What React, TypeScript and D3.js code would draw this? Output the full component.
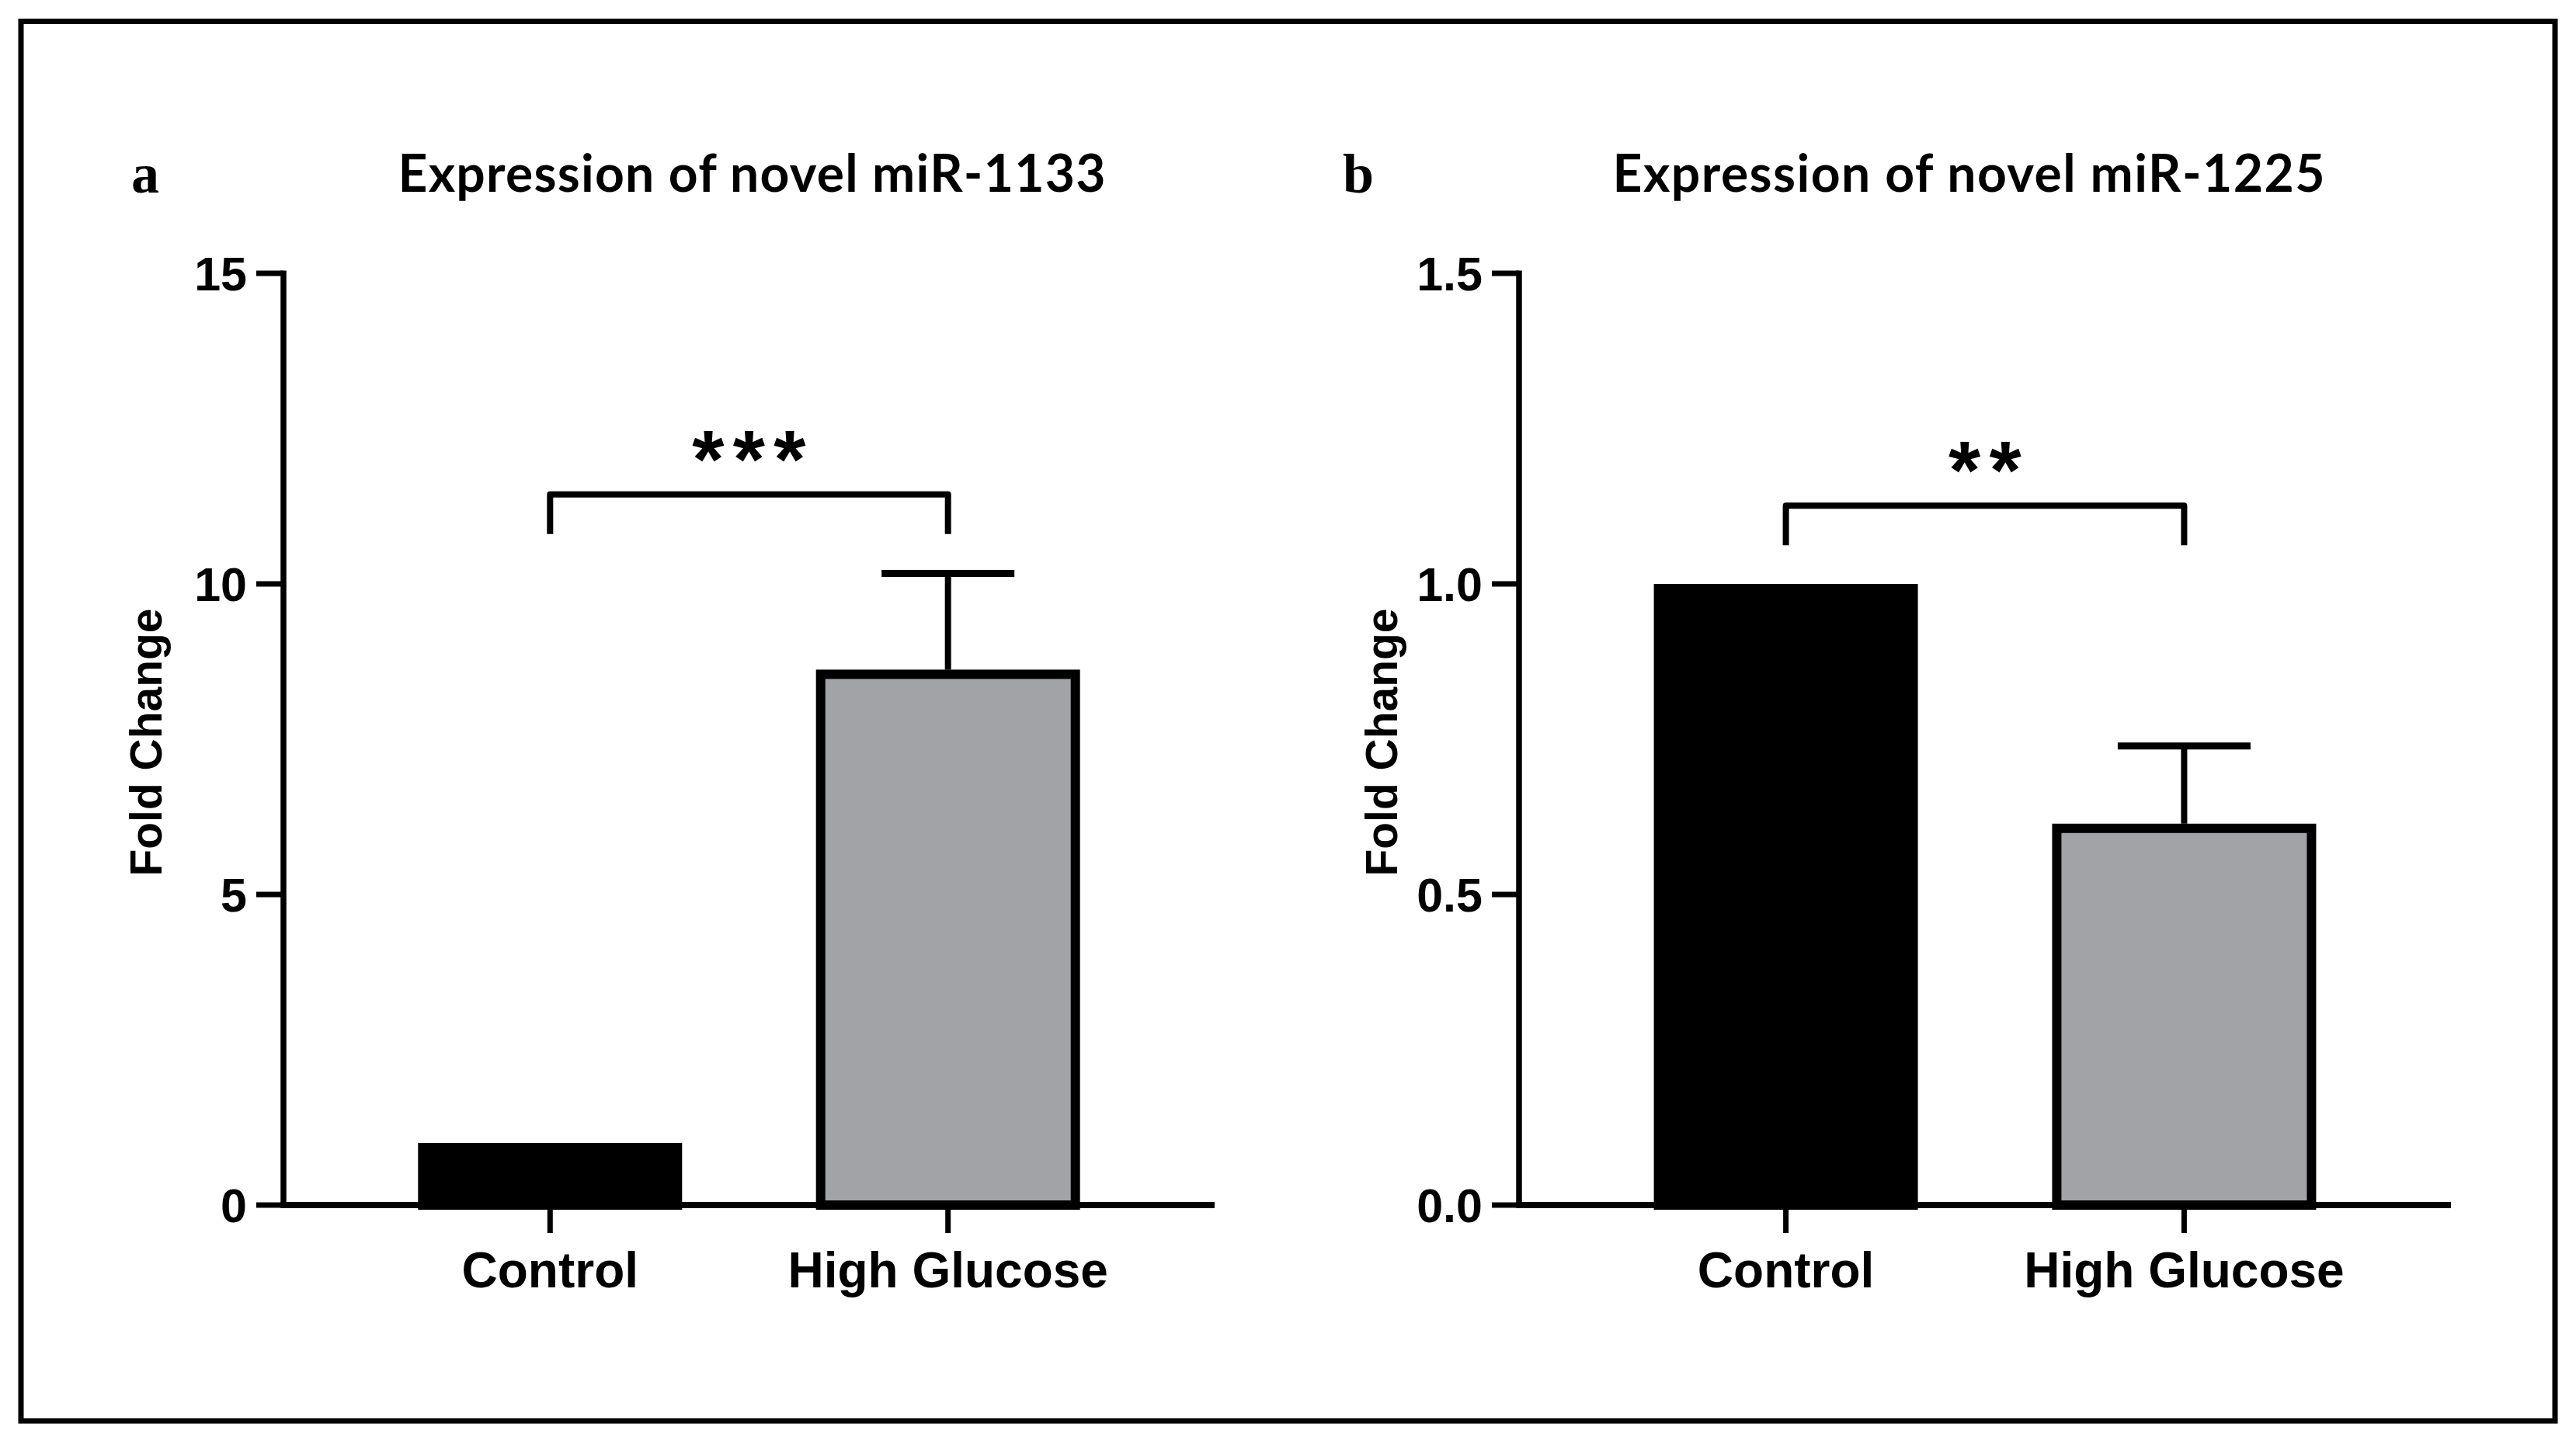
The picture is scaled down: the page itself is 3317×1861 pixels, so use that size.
import * as d3 from 'd3';

// ---- data ----
const categories = ['Control', 'High Glucose'];
const barColors = ['#000000', '#a2a3a7'];

const miR1133Means = [1.0, 8.62];
const miR1133Errors = [0, 1.55];
const miR1133Ticks = [0, 5, 10, 15];

const miR1225Means = [1.0, 0.614];
const miR1225Errors = [0, 0.125];
const miR1225Ticks = [0, 0.5, 1.0, 1.5];

const panelLetters = ['a', 'b'];
const panelTitles = ['Expression of novel miR-1133', 'Expression of novel miR-1225'];
const sigStars = ['***', '**'];
// height of the significance bracket in data units
const sigHeights = [11.44, 1.126];

const W = 3317;
const H = 1861;
const SANS = '"Liberation Sans", Arial, sans-serif';

interface PanelProps {
  left: number;
  right: number;
  means: number[];
  errors: number[];
  ticks: number[];
  letter: string;
  letterX: number;
  title: string;
  titleX: number;
  titleLen: number;
  stars: string;
  sigY: number;
  fmt: (v: number) => string;
}

const yTop = 352;
const yBottom = 1552;

function Panel({ left, right, means, errors, ticks, letter, letterX, title, titleX, titleLen, stars, sigY, fmt }: PanelProps) {
  const y = d3.scaleLinear().domain([0, ticks[ticks.length - 1]]).range([yBottom, yTop]);
  const x = d3.scalePoint<string>().domain(categories).range([left, right]).padding(0.67);
  const barW = 340;
  const border = 12;
  const capW = 171;

  const xl = x(categories[0])!;
  const xr = x(categories[1])!;
  const by = y(sigY);
  const legLen = 51;
  const bracket = d3.path();
  bracket.moveTo(xl, by + legLen);
  bracket.lineTo(xl, by);
  bracket.lineTo(xr, by);
  bracket.lineTo(xr, by + legLen);

  const starPitch = 52.5;
  const starChars = stars.split('');
  const midX = (xl + xr) / 2;

  return (
    <g>
      <text x={letterX} y={248} fontFamily='"Liberation Serif", "Times New Roman", serif' fontWeight={700} fontSize={72}>
        {letter}
      </text>
      <text
        x={titleX}
        y={247}
        textAnchor="middle"
        fontFamily='Lato, "Open Sans", sans-serif'
        fontWeight={700}
        fontSize={66}
        textLength={titleLen}
      >
        {title}
      </text>

      {/* bars */}
      {categories.map((c, i) => {
        const cx = x(c)!;
        const top = y(means[i]) + border / 2;
        return (
          <rect
            key={c}
            x={cx - barW / 2 + border / 2}
            y={top}
            width={barW - border}
            height={yBottom - top}
            fill={barColors[i]}
            stroke="#000"
            strokeWidth={border}
          />
        );
      })}

      {/* error bars (upper only) */}
      {categories.map((c, i) => {
        if (!errors[i]) return null;
        const cx = x(c)!;
        const yv = y(means[i]);
        const ye = y(means[i] + errors[i]);
        return (
          <g key={`err-${c}`}>
            <line x1={cx} x2={cx} y1={yv} y2={ye} stroke="#000" strokeWidth={8} />
            <line x1={cx - capW / 2} x2={cx + capW / 2} y1={ye} y2={ye} stroke="#000" strokeWidth={9} />
          </g>
        );
      })}

      {/* significance bracket */}
      <path d={bracket.toString()} fill="none" stroke="#000" strokeWidth={8} strokeLinejoin="round" />
      {starChars.map((s, i) => (
        <text
          key={`star-${i}`}
          x={midX + (i - (starChars.length - 1) / 2) * starPitch}
          y={by - 9}
          textAnchor="middle"
          fontFamily={SANS}
          fontWeight={700}
          fontSize={106}
        >
          {s}
        </text>
      ))}

      {/* y axis */}
      <line x1={left} x2={left} y1={yTop - 3.5} y2={yBottom + 4} stroke="#000" strokeWidth={7.5} />
      {ticks.map((t) => (
        <g key={`yt-${t}`}>
          <line x1={left - 35} x2={left} y1={y(t)} y2={y(t)} stroke="#000" strokeWidth={7} />
          <text
            x={left - 47}
            y={y(t)}
            dy="0.36em"
            textAnchor="end"
            fontFamily={SANS}
            fontWeight={700}
            fontSize={61}
          >
            {fmt(t)}
          </text>
        </g>
      ))}
      <text
        transform={`translate(${left - 157}, ${(yTop + yBottom) / 2 + 4}) rotate(-90)`}
        textAnchor="middle"
        fontFamily={SANS}
        fontWeight={700}
        fontSize={57}
      >
        Fold Change
      </text>

      {/* x axis */}
      <line x1={left - 3.5} x2={right} y1={yBottom} y2={yBottom} stroke="#000" strokeWidth={8} />
      {categories.map((c) => (
        <g key={`xt-${c}`}>
          <line x1={x(c)!} x2={x(c)!} y1={yBottom} y2={yBottom + 36} stroke="#000" strokeWidth={7} />
          <text
            x={x(c)!}
            y={1658}
            textAnchor="middle"
            fontFamily={SANS}
            fontWeight={700}
            fontSize={64}
          >
            {c}
          </text>
        </g>
      ))}
    </g>
  );
}

export default function App() {
  return (
    <>
      <style>{`body{margin:0;}`}</style>
      <svg width={W} height={H} style={{ display: 'block', background: '#fff' }}>
        <rect x={0} y={0} width={W} height={H} fill="#fff" />
        <rect x={27} y={27.5} width={3263} height={1802.5} fill="none" stroke="#000" strokeWidth={7} />
        <Panel
          left={365}
          right={1564}
          means={miR1133Means}
          errors={miR1133Errors}
          ticks={miR1133Ticks}
          letter={panelLetters[0]}
          letterX={169}
          title={panelTitles[0]}
          titleX={968}
          titleLen={911}
          stars={sigStars[0]}
          sigY={sigHeights[0]}
          fmt={d3.format('d')}
        />
        <Panel
          left={1956}
          right={3156}
          means={miR1225Means}
          errors={miR1225Errors}
          ticks={miR1225Ticks}
          letter={panelLetters[1]}
          letterX={1729}
          title={panelTitles[1]}
          titleX={2535}
          titleLen={917}
          stars={sigStars[1]}
          sigY={sigHeights[1]}
          fmt={d3.format('.1f')}
        />
      </svg>
    </>
  );
}
